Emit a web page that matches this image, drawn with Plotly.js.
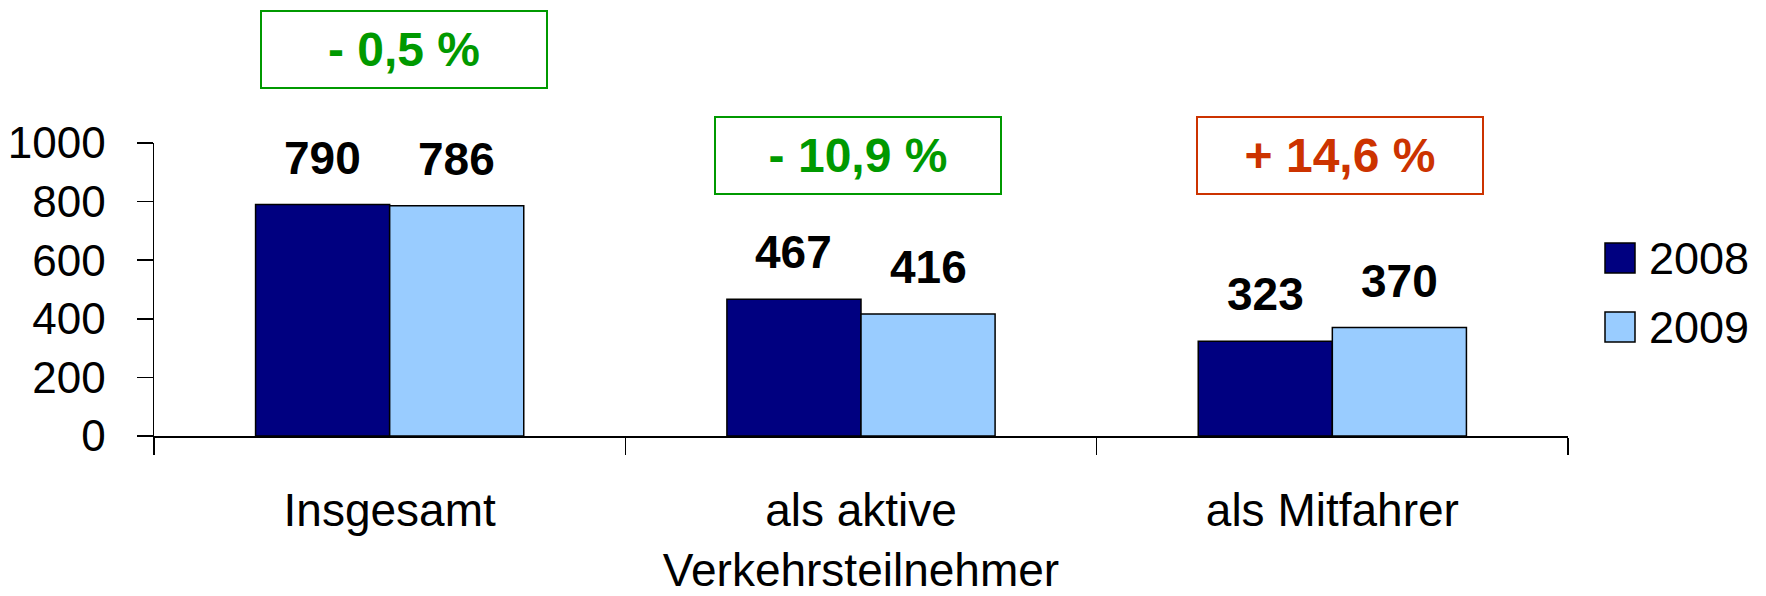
<!DOCTYPE html>
<html>
<head>
<meta charset="utf-8">
<script src="https://cdn.plot.ly/plotly-3.0.1.min.js"></script>
<style>html,body{margin:0;padding:0;background:#fff;}#chart{width:1766px;height:596px;}</style>
</head>
<body>
<div id="chart"></div>
<script>
// ---- data ----
const categories = ['Insgesamt', 'als aktive<br>Verkehrsteilnehmer', 'als Mitfahrer'];
const seriesNames = ['2008', '2009'];
const values2008 = [790, 467, 323];
const values2009 = [786, 416, 370];
const changeLabels = ['- 0,5 %', '- 10,9 %', '+ 14,6 %'];
const yTickValues = [0, 200, 400, 600, 800, 1000];

// ---- styles ----
const barColors = ['#000080', '#99CCFF'];
const changeColors = ['#009900', '#009900', '#CC3300'];
const FONT = 'Liberation Sans, Arial, sans-serif';

const W = 1766, H = 596;
const M = {l: 154, r: 198, t: 143, b: 160};
const PW = W - M.l - M.r, PH = H - M.t - M.b;
const px2x = px => (px - M.l) / PW;
const py2y = py => (H - M.b - py) / PH;

const bargap = 0.431;
const barW = (1 - bargap) / 2;

const allValues = [values2008, values2009];
const traces = allValues.map((vals, j) => ({
  type: 'bar',
  name: seriesNames[j],
  x: categories,
  y: vals,
  marker: {color: barColors[j], line: {color: '#000', width: 1.5}},
  showlegend: false,
  hoverinfo: 'none'
}));

const annotations = [];
// value labels over bars
allValues.forEach((vals, j) => {
  vals.forEach((v, i) => {
    annotations.push({
      xref: 'x', yref: 'y',
      x: i + (j === 0 ? -1 : 1) * barW / 2,
      y: v,
      yshift: 47,
      yanchor: 'middle',
      text: '<b>' + v + '</b>',
      showarrow: false,
      font: {family: FONT, size: 46, color: '#000'}
    });
  });
});
// change boxes
const boxShift = [14, -3, 8];
const boxY = [50, 155, 155];
changeLabels.forEach((t, i) => {
  annotations.push({
    xref: 'x', yref: 'paper',
    x: i, xshift: boxShift[i],
    y: py2y(boxY[i]),
    xanchor: 'center', yanchor: 'middle',
    text: '<b>' + t + '</b>',
    showarrow: false,
    width: 284, height: 75,
    borderwidth: 2, borderpad: 0,
    bordercolor: changeColors[i],
    bgcolor: '#fff',
    font: {family: FONT, size: 48, color: changeColors[i]}
  });
});

// custom legend (large square swatches)
const shapes = [];
const legendTop = [243, 312];
seriesNames.forEach((n, j) => {
  shapes.push({
    type: 'rect', xref: 'paper', yref: 'paper',
    x0: px2x(1605), x1: px2x(1635),
    y0: py2y(legendTop[j]), y1: py2y(legendTop[j] + 30),
    fillcolor: barColors[j],
    line: {color: '#000', width: 1.5}
  });
  annotations.push({
    xref: 'paper', yref: 'paper',
    x: px2x(1647), y: py2y(legendTop[j] + 15),
    xanchor: 'left', yanchor: 'middle',
    text: n, showarrow: false,
    font: {family: FONT, size: 45, color: '#000'}
  });
});

const layout = {
  width: W, height: H,
  margin: M,
  paper_bgcolor: '#fff', plot_bgcolor: '#fff',
  barmode: 'group', bargap: bargap, bargroupgap: 0,
  showlegend: false,
  font: {family: FONT, color: '#000'},
  xaxis: {
    type: 'category',
    tickson: 'boundaries',
    ticks: 'outside', ticklen: 17, tickwidth: 1.5, tickcolor: '#000',
    showline: true, linecolor: '#000', linewidth: 1.5,
    showgrid: false, zeroline: false,
    tickfont: {family: FONT, size: 46, color: '#000'},
    ticklabelstandoff: 33
  },
  yaxis: {
    range: [0, 1000],
    tickvals: yTickValues,
    ticktext: yTickValues.map(String),
    ticks: 'outside', ticklen: 16, tickwidth: 1.5, tickcolor: '#000',
    showline: true, linecolor: '#000', linewidth: 1.5,
    showgrid: false, zeroline: false,
    tickfont: {family: FONT, size: 44, color: '#000'},
    ticklabelstandoff: 22
  },
  annotations: annotations,
  shapes: shapes
};

Plotly.newPlot('chart', traces, layout, {displayModeBar: false, staticPlot: true});
</script>
</body>
</html>
